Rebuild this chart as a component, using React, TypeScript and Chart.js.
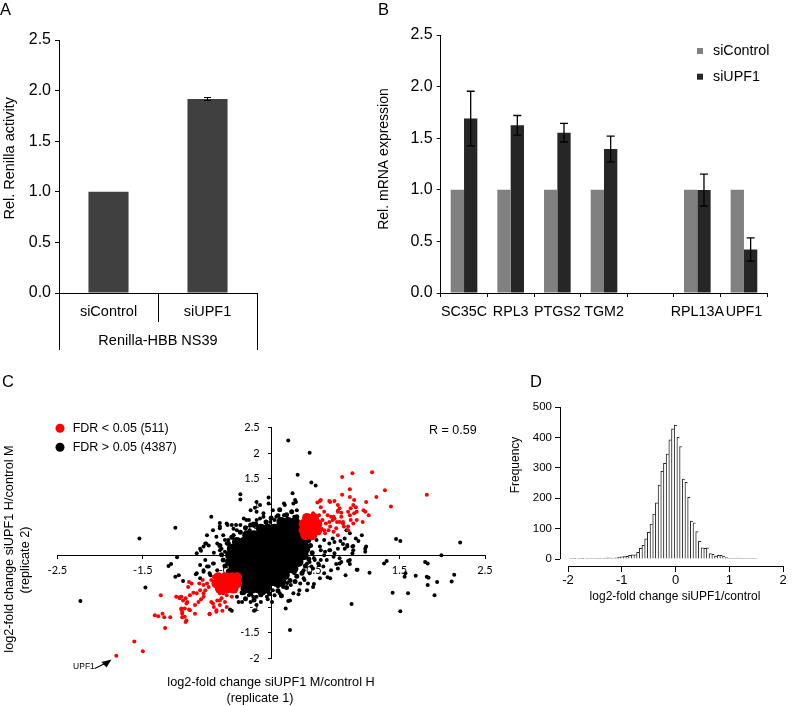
import React, { useEffect, useRef } from "react";
import { Chart, registerables } from "chart.js";

Chart.register(...registerables);

const SANS = "'Liberation Sans', Arial, sans-serif";
const EXCEL = "Lato, 'Liberation Sans', sans-serif";

// ---------- Panel A ----------
const aCategories = ["siControl", "siUPF1"];
const aValues = [1.0, 1.917];
const aErrors = [0, 0.015];
const aGroupLabel = "Renilla-HBB NS39";
const aYTicks = [0, 0.5, 1, 1.5, 2, 2.5];

// ---------- Panel B ----------
const bCategories = ["SC35C", "RPL3", "PTGS2", "TGM2", "", "RPL13A", "UPF1"];
const bControl = [1, 1, 1, 1, null, 1, 1];
const bUpf1 = [1.69, 1.625, 1.553, 1.395, null, 0.997, 0.421];
const bUpf1Err = [0.265, 0.095, 0.09, 0.125, null, 0.155, 0.113];
const bYTicks = [0, 0.5, 1, 1.5, 2, 2.5];

// ---------- Panel C ----------
type Pt = [number, number];
const cXTicks = [-2.5, -1.5, -0.5, 0.5, 1.5, 2.5];
const cYTicks = [-2, -1.5, -1, -0.5, 0, 0.5, 1, 1.5, 2, 2.5];
const cUpf1Point: Pt = [-1.81, -1.95];

const cRedCore: Pt[] = [
  [0.42, 0.74], [0.5, 0.74],
  [0.38, 0.62], [0.46, 0.62], [0.54, 0.62],
  [0.38, 0.5], [0.46, 0.5], [0.54, 0.5],
  [0.4, 0.4], [0.48, 0.4],
  [-0.62, -0.42], [-0.54, -0.42], [-0.46, -0.42], [-0.4, -0.42],
  [-0.64, -0.54], [-0.56, -0.54], [-0.48, -0.54], [-0.4, -0.54],
  [-0.6, -0.64], [-0.52, -0.64], [-0.44, -0.64],
];

const cRed: Pt[] = [
  [1.82, 1.19], [0.83, 1.54], [0.95, 1.61], [1.18, 1.63], [1.33, 1.28], [1.23, 1.15], [1.4, 0.96],
  [0.92, 1.3], [0.83, 1.19], [0.54, 1.04], [0.58, 1.09], [0.68, 1.07], [0.74, 1.07], [0.97, 1.09],
  [0.96, 0.99], [0.93, 0.93], [0.9, 0.86], [0.92, 0.79], [0.97, 0.83], [0.99, 0.95], [1.11, 1.05],
  [1.1, 0.86], [1.14, 0.79], [1.07, 0.66], [0.78, 0.99], [0.8, 0.93], [0.82, 0.76], [0.84, 0.66],
  [0.62, 0.86], [0.66, 0.79], [0.7, 0.76], [0.74, 0.73], [0.6, 0.7], [0.64, 0.63], [0.69, 0.57],
  [0.76, 0.54], [0.85, 0.57], [0.93, 0.7], [0.9, 0.57], [0.58, 0.95], [0.78, 0.88], [0.82, 0.84],
  [0.56, 0.79], [0.72, 0.7], [0.68, 0.66], [0.8, 0.66], [0.54, 0.57], [0.62, 0.5], [0.48, 0.47],
  [0.56, 0.44], [0.92, 1.15], [1.0, 0.86], [1.08, 0.89], [1.0, 0.7], [0.96, 0.63], [0.78, 0.86],
  [0.73, 0.76], [0.77, 0.66], [0.84, 0.63], [0.9, 0.5], [0.69, 1.05], [0.57, 1.07], [0.49, 0.83],
  [0.67, 0.5], [0.59, 0.53], [0.63, 0.44], [0.73, 0.47], [0.78, 0.4],
  [-1.81, -1.95], [-1.6, -1.67], [-1.5, -1.86], [-1.24, -1.41], [-1.36, -1.16], [-1.32, -1.18],
  [-1.27, -1.13], [-1.25, -1.2], [-1.18, -1.2], [-1.29, -0.77], [-1.0, -1.29], [-1.04, -1.09],
  [-1.04, -1.2], [-1.05, -1.05], [-1.01, -1.03], [-0.96, -1.05], [-1.07, -0.81], [-1.03, -0.87],
  [-1.0, -0.83], [-0.98, -0.9], [-0.95, -0.77], [-0.91, -0.72], [-0.96, -0.51], [-0.93, -0.54],
  [-0.97, -0.61], [-0.89, -0.96], [-0.85, -0.9], [-0.82, -0.85], [-0.79, -0.73], [-0.77, -0.67],
  [-0.83, -0.67], [-0.87, -0.73], [-0.73, -0.61], [-0.7, -0.47], [-0.67, -0.41], [-0.65, -0.51],
  [-0.79, -0.57], [-0.75, -0.54], [-0.8, -0.47], [-0.84, -0.54], [-0.72, -1.14], [-0.64, -1.09],
  [-0.57, -1.07], [-0.6, -0.96], [-0.67, -1.0], [-0.7, -0.9], [-0.63, -0.87], [-0.58, -0.83],
  [-0.52, -0.77], [-0.56, -0.7], [-0.6, -0.73], [-0.54, -0.9], [-1.05, -0.8], [-0.99, -0.93],
  [-0.95, -1.06], [-0.89, -1.13], [-1.01, -1.19], [-0.79, -0.8], [-0.68, -0.93], [-0.64, -1.06],
  [-0.72, -1.13], [-0.6, -0.87], [-0.56, -0.73], [-0.52, -1.0], [-0.46, -0.8], [-1.05, -1.03],
  [-1.04, -1.13], [-0.99, -1.26], [-1.11, -0.8], [-1.07, -0.83],
];

const cBlackCore: Pt[] = [
  [0.12, 0.66], [0.2, 0.66], [0.28, 0.66],
  [-0.12, 0.53], [-0.04, 0.53], [0.04, 0.53], [0.12, 0.53], [0.2, 0.53], [0.28, 0.53], [0.34, 0.53],
  [-0.28, 0.4], [-0.2, 0.4], [-0.12, 0.4], [-0.04, 0.4], [0.04, 0.4], [0.12, 0.4], [0.2, 0.4], [0.28, 0.4], [0.36, 0.4],
  [-0.4, 0.27], [-0.32, 0.27], [-0.24, 0.27], [-0.16, 0.27], [-0.08, 0.27], [0, 0.27], [0.08, 0.27], [0.16, 0.27], [0.24, 0.27], [0.32, 0.27], [0.38, 0.27],
  [-0.46, 0.14], [-0.38, 0.14], [-0.3, 0.14], [-0.22, 0.14], [-0.14, 0.14], [-0.06, 0.14], [0.02, 0.14], [0.1, 0.14], [0.18, 0.14], [0.26, 0.14], [0.34, 0.14], [0.4, 0.14],
  [-0.48, 0.01], [-0.4, 0.01], [-0.32, 0.01], [-0.24, 0.01], [-0.16, 0.01], [-0.08, 0.01], [0, 0.01], [0.08, 0.01], [0.16, 0.01], [0.24, 0.01], [0.32, 0.01], [0.38, 0.01],
  [-0.48, -0.12], [-0.4, -0.12], [-0.32, -0.12], [-0.24, -0.12], [-0.16, -0.12], [-0.08, -0.12], [0, -0.12], [0.08, -0.12], [0.16, -0.12], [0.24, -0.12], [0.32, -0.12],
  [-0.44, -0.25], [-0.36, -0.25], [-0.28, -0.25], [-0.2, -0.25], [-0.12, -0.25], [-0.04, -0.25], [0.04, -0.25], [0.12, -0.25], [0.2, -0.25], [0.26, -0.25],
  [-0.38, -0.38], [-0.3, -0.38], [-0.22, -0.38], [-0.14, -0.38], [-0.06, -0.38], [0.02, -0.38], [0.1, -0.38], [0.16, -0.38],
  [-0.34, -0.51], [-0.26, -0.51], [-0.18, -0.51], [-0.1, -0.51], [-0.02, -0.51], [0.06, -0.51], [0.12, -0.51],
  [-0.3, -0.64], [-0.22, -0.64], [-0.14, -0.64], [-0.06, -0.64],
];

const cBlackHalo: Pt[] = [
  [-0.18, 0.62], [-0.3, 0.55], [-0.36, 0.46], [-0.46, 0.36], [-0.5, 0.24], [-0.24, 0.6], [-0.06, 0.66],
  [0.0, 0.74], [-0.42, 0.3], [-0.58, 0.02], [-0.56, -0.08], [-0.6, 0.2], [-0.54, -0.2], [-0.5, -0.3],
  [0.08, 0.78], [0.18, 0.8], [0.3, 0.76], [0.24, 0.86], [0.1, 0.9], [0.44, 0.3], [0.46, 0.2],
  [0.48, 0.06], [0.44, -0.06], [0.4, -0.2], [0.36, -0.34], [0.3, -0.4], [0.22, -0.48], [0.18, -0.62],
  [0.08, -0.68], [0.28, -0.5], [0.12, -0.78], [-0.02, -0.74], [-0.12, -0.76], [-0.24, -0.74],
  [-0.34, -0.72], [-0.2, -0.86], [-0.3, -0.84], [-0.46, -0.34], [-0.44, -0.46],
];

const cBlack: Pt[] = [
  [-2.23, -0.88], [-1.54, 0.34], [-1.47, -0.62], [-1.12, 0.55], [-1.2, -0.2], [-1.17, -0.16], [-1.1, -0.03],
  [-1.08, -0.38], [-1.12, -0.41], [-1.03, -0.49], [-0.88, -0.36], [-0.87, 0.05], [-0.82, 0.1], [-0.73, 0.2],
  [-0.77, 0.24], [-0.75, 0.4], [-0.83, 0.14], [-0.79, 0.18], [-0.7, 0.76], [-0.6, 0.64], [-0.6, 0.54],
  [-0.51, 0.6], [-0.46, 0.6], [-0.41, 0.6], [-0.56, 0.4], [-0.54, 0.31], [-0.36, 1.2], [-0.36, 1.1],
  [-0.17, 1.05], [-0.13, 0.99], [-0.19, 0.94], [-0.03, 1.14], [-0.03, 1.02], [-0.24, 0.89], [-0.17, 0.86],
  [-0.32, 0.73], [-0.26, 0.7], [-0.17, 0.7], [-0.2, 0.58], [-0.11, 0.5], [-0.09, 0.76], [-0.4, 0.5],
  [-0.44, 0.4], [-0.5, 0.31], [-0.63, 0.24], [-0.58, 0.14], [-0.67, 0.06], [-0.38, 0.31], [-0.54, 0.08],
  [0.2, 2.25], [0.45, 2.01], [0.31, 1.58], [0.47, 1.43], [0.52, 1.37], [0.25, 1.22], [0.28, 1.09],
  [0.29, 1.05], [0.15, 1.02], [0.3, 0.89], [0.16, 0.99], [0.16, 0.79], [0.26, 1.02],
  [1.46, 0.33], [1.51, 0.29], [2.21, 0.26], [1.99, 0.01], [1.06, 0.4], [1.11, 0.18], [0.95, 0.18],
  [0.89, 0.21], [0.86, 0.34], [0.81, 0.29], [0.72, 0.34], [0.74, 0.27],
  [0.04, 0.7], [0.09, 0.63], [0.15, 0.79], [0.19, 0.73], [0.27, 0.76], [0.23, 0.63], [0.62, 0.31],
  [0.68, 0.24], [0.78, 0.14], [0.84, 0.23], [0.58, 0.11],
  [-0.79, -0.31], [-0.73, -0.21], [-0.67, -0.15], [-0.63, -0.28], [-0.77, -0.08], [-0.83, -0.18], [-0.71, -0.38],
  [-0.46, -1.07], [-0.38, -0.9], [-0.34, -0.9], [-0.24, -0.9], [-0.2, -1.07], [-0.12, -0.9], [-0.04, -0.85],
  [-0.32, -0.73], [-0.26, -0.77], [-0.2, -0.67], [-0.17, -0.8], [-0.09, -0.73],
  [0.22, -1.45], [0.94, -0.94], [0.17, -1.03], [0.2, -0.88], [0.04, -0.77], [0.01, -0.9], [1.42, -0.72],
  [1.6, -0.73], [1.51, -1.08], [1.83, -0.57], [1.91, -0.77], [1.94, -0.51], [1.82, -0.41], [1.84, -0.43],
  [1.69, -0.39], [1.57, -0.34], [2.11, -0.5], [2.14, -0.37], [1.8, -0.12], [1.83, -0.15], [1.32, -0.15],
  [1.35, -0.1], [1.15, -0.33], [1.01, -0.27], [0.87, -0.38], [1.56, -0.41],
  [0.78, -0.25], [0.8, -0.15], [0.82, -0.12], [0.76, -0.16], [0.7, -0.28], [0.66, -0.42], [0.69, -0.44],
  [0.62, -0.34], [0.5, -0.55], [0.43, -0.54], [0.39, -0.47], [0.37, -0.31], [0.33, -0.67], [0.32, -0.75],
  [0.19, -0.53], [0.15, -0.47], [0.27, -0.34], [0.23, -0.57], [0.08, -0.6], [0.06, -0.53], [0.11, -0.38],
  [0.9, -0.1], [0.92, -0.16], [0.95, 0.05], [0.96, 0.19], [1.0, -0.27],
  [0.56, -0.18], [0.58, -0.08], [0.5, -0.05], [0.47, -0.21], [0.45, -0.12], [0.74, 0.05], [0.68, 0.11], [0.62, 0.01],
  [0.8, -0.05], [0.92, -0.08], [0.86, 0.14], [0.89, 0.18], [0.96, 0.11], [0.99, 0.34], [1.02, 0.29],
  [1.1, 0.14], [1.1, 0.08], [0.88, 0.5], [0.92, 0.44],
  [-0.19, -1.06], [-0.17, -0.96], [-0.48, -1.05],
  [-0.4, -0.8], [-0.33, -0.73], [-0.21, -0.8], [-0.13, -0.73], [-0.05, -0.8], [0.02, -0.67], [0.1, -0.73],
  [-0.09, -0.54], [0.06, -0.54], [0.14, -0.61],
  [0.34, -0.54], [0.42, -0.67], [0.49, -0.61], [0.57, -0.44], [0.45, -0.34], [0.38, -0.44], [0.26, -0.73], [0.22, -0.87],
  [0.55, -0.15], [0.65, -0.08], [0.61, -0.21], [0.51, -0.08], [0.73, -0.02], [0.69, 0.11], [0.63, 0.08],
  [0.57, 0.18], [0.53, 0.31],
  [-0.68, 0.5], [-0.6, 0.57], [-0.52, 0.63], [-0.44, 0.53], [-0.36, 0.6], [-0.29, 0.7], [-0.21, 0.63],
  [-0.13, 0.73], [-0.44, 0.4], [-0.64, 0.37], [-0.76, 0.24], [-0.52, 0.24], [-0.6, 0.11],
  [-0.09, 0.83], [0.02, 0.89], [0.06, 0.76], [-0.01, 0.66], [-0.13, 0.57], [-0.25, 0.5],
  [-0.75, -0.21], [-0.68, -0.15], [-0.79, -0.28], [-0.72, -0.34], [-0.83, -0.44], [-0.87, -0.34],
  [0.42, -0.15], [0.49, -0.25], [0.38, -0.28], [0.34, -0.15],
];

// ---------- Panel D ----------
const dBinCenters = [
  -1.95, -1.9, -1.85, -1.8, -1.75, -1.7, -1.65, -1.6, -1.55, -1.5,
  -1.45, -1.4, -1.35, -1.3, -1.25, -1.2, -1.15, -1.1, -1.05, -1.0,
  -0.95, -0.9, -0.85, -0.8, -0.75, -0.7, -0.65, -0.6, -0.55, -0.5,
  -0.45, -0.4, -0.35, -0.3, -0.25, -0.2, -0.15, -0.1, -0.05, 0.0,
  0.05, 0.1, 0.15, 0.2, 0.25, 0.3, 0.35, 0.4, 0.45, 0.5,
  0.55, 0.6, 0.65, 0.7, 0.75, 0.8, 0.85, 0.9, 0.95, 1.0,
  1.05, 1.1, 1.15, 1.2, 1.25, 1.3, 1.35, 1.4, 1.45, 1.5,
];
const dCounts = [
  2, 2, 1, 2, 2, 1, 2, 2, 2, 2,
  2, 3, 2, 3, 4, 3, 2, 4, 6, 7,
  8, 9, 12, 14, 14, 22, 35, 45, 66, 88,
  115, 148, 185, 243, 288, 315, 345, 392, 428, 440,
  400, 370, 263, 252, 203, 125, 119, 90, 58, 37,
  35, 37, 18, 15, 10, 12, 12, 10, 5, 2,
  2, 2, 3, 3, 2, 2, 2, 2, 2, 2,
];
const dXTicks = [-2, -1, 0, 1, 2];
const dYTicks = [0, 100, 200, 300, 400, 500];

// ---------- helpers ----------
function txt(ctx: any, s: string, x: number, y: number, size: number, o: any = {}) {
  ctx.save();
  ctx.translate(x, y);
  if (o.rotate) ctx.rotate(o.rotate);
  ctx.font = `${size}px ${o.family || SANS}`;
  ctx.fillStyle = o.color || "#000";
  ctx.textAlign = o.align || "center";
  ctx.textBaseline = o.baseline || "middle";
  ctx.fillText(s, 0, 0);
  ctx.restore();
}

function overlay(id: string, draw: (ctx: any, chart: any) => void, under?: (ctx: any, chart: any) => void) {
  return {
    id,
    beforeDatasetsDraw(chart: any) {
      if (!under) return;
      const ctx = chart.ctx;
      ctx.save();
      under(ctx, chart);
      ctx.restore();
    },
    afterDraw(chart: any) {
      const ctx = chart.ctx;
      ctx.save();
      draw(ctx, chart);
      ctx.restore();
    },
  };
}

const errorBars = {
  id: "errorBars",
  afterDatasetsDraw(chart: any, _a: any, opts: any) {
    const ctx = chart.ctx;
    const y = chart.scales.y;
    chart.data.datasets.forEach((ds: any, i: number) => {
      if (!ds.errors) return;
      chart.getDatasetMeta(i).data.forEach((el: any, j: number) => {
        const v = ds.data[j];
        const e = ds.errors[j];
        if (v == null || !e) return;
        const top = y.getPixelForValue(v + e);
        const bot = y.getPixelForValue(v - e);
        ctx.save();
        ctx.strokeStyle = "#000";
        ctx.lineWidth = opts.width || 1.2;
        ctx.beginPath();
        ctx.moveTo(el.x, top);
        ctx.lineTo(el.x, bot);
        ctx.moveTo(el.x - opts.cap, top);
        ctx.lineTo(el.x + opts.cap, top);
        ctx.moveTo(el.x - opts.cap, bot);
        ctx.lineTo(el.x + opts.cap, bot);
        ctx.stroke();
        ctx.restore();
      });
    });
  },
};

const tickList = (vals: number[]) => (s: any) => {
  s.ticks = vals.map((v) => ({ value: v }));
};

const baseOpts = {
  responsive: false,
  animation: false as const,
  events: [],
};

// ---------- configs ----------
const A = { left: 0, top: 0, width: 370, height: 360 };
const B = { left: 370, top: 0, width: 422, height: 330 };
const C = { left: 0, top: 360, width: 500, height: 346 };
const D = { left: 500, top: 360, width: 292, height: 346 };

function configA() {
  return {
    type: "bar",
    data: {
      labels: aCategories,
      datasets: [
        {
          data: aValues,
          errors: aErrors,
          backgroundColor: "#404040",
          categoryPercentage: 0.405,
          barPercentage: 1,
        },
      ],
    },
    options: {
      ...baseOpts,
      layout: { padding: { left: 0, top: 40, right: 113, bottom: 0 } },
      plugins: { legend: { display: false }, tooltip: { enabled: false }, errorBars: { cap: 3.5, width: 1.2 } },
      scales: {
        x: {
          grid: { offset: true, drawOnChartArea: false, tickLength: 29, color: "#000" },
          border: { color: "#000" },
          ticks: { color: "#000", font: { family: SANS, size: 14.5 }, padding: -18.7 },
          afterFit: (s: any) => { s.height = 67; },
        },
        y: {
          min: 0,
          max: 2.5,
          afterBuildTicks: tickList(aYTicks),
          ticks: { color: "#000", font: { family: SANS, size: 16 }, padding: 4, callback: (v: any) => Number(v).toFixed(1) },
          grid: { drawOnChartArea: false, tickLength: 4, color: "#000" },
          border: { color: "#000" },
          afterFit: (s: any) => { s.width = 59; },
        },
      },
    },
    plugins: [
      errorBars,
      overlay("annA", (ctx, chart) => {
        const ca = chart.chartArea;
        txt(ctx, "A", 0 - A.left, 15 - A.top, 16.5, { align: "left", baseline: "alphabetic" });
        txt(ctx, "Rel. Renilla activity", 9.5 - A.left, 158.3 - A.top, 14.5, { rotate: -Math.PI / 2 });
        ctx.strokeStyle = "#000";
        ctx.lineWidth = 1;
        ctx.beginPath();
        [ca.left, ca.right].forEach((x: number) => {
          const xx = Math.round(x) + 0.5;
          ctx.moveTo(xx, ca.bottom + 28);
          ctx.lineTo(xx, ca.bottom + 57);
        });
        ctx.stroke();
        txt(ctx, aGroupLabel, (ca.left + ca.right) / 2, 341 - A.top, 14.5);
      }),
    ],
  };
}

function configB() {
  return {
    type: "bar",
    data: {
      labels: bCategories,
      datasets: [
        { label: "siControl", data: bControl, backgroundColor: "#808080", categoryPercentage: 0.571, barPercentage: 1 },
        { label: "siUPF1", data: bUpf1, errors: bUpf1Err, backgroundColor: "#262626", categoryPercentage: 0.571, barPercentage: 1 },
      ],
    },
    options: {
      ...baseOpts,
      layout: { padding: { left: 0, top: 35, right: 24.7, bottom: 0 } },
      plugins: { legend: { display: false }, tooltip: { enabled: false }, errorBars: { cap: 4, width: 1.3 } },
      scales: {
        x: {
          grid: { offset: true, drawOnChartArea: false, tickLength: 4, color: "#000" },
          border: { color: "#000" },
          ticks: { color: "#000", font: { family: SANS, size: 14.3 }, padding: 6, autoSkip: false, maxRotation: 0 },
          afterFit: (s: any) => { s.height = 37; },
        },
        y: {
          min: 0,
          max: 2.5,
          afterBuildTicks: tickList(bYTicks),
          ticks: { color: "#000", font: { family: SANS, size: 16 }, padding: 4, callback: (v: any) => Number(v).toFixed(1) },
          grid: { drawOnChartArea: false, tickLength: 4, color: "#000" },
          border: { color: "#000" },
          afterFit: (s: any) => { s.width = 70.7; },
        },
      },
    },
    plugins: [
      errorBars,
      overlay("annB", (ctx, chart) => {
        txt(ctx, "B", 378 - B.left, 15 - B.top, 16.5, { align: "left", baseline: "alphabetic" });
        txt(ctx, "Rel. mRNA expression", 384 - B.left, 159 - B.top, 14, { rotate: -Math.PI / 2 });
        const ys = [51, 76.7];
        chart.data.datasets.forEach((ds: any, i: number) => {
          ctx.fillStyle = ds.backgroundColor;
          ctx.fillRect(697 - B.left, ys[i] - 3 - B.top, 6, 6);
          txt(ctx, ds.label, 713 - B.left, ys[i] - B.top, 14.3, { align: "left" });
        });
      }),
    ],
  };
}

const toXY = (pts: Pt[]) => pts.map(([x, y]) => ({ x, y }));

function configC() {
  const ptStyle = (color: string, r: number) => ({
    backgroundColor: color,
    pointRadius: r,
    pointBorderWidth: 0,
    pointHoverRadius: r,
  });
  return {
    type: "scatter",
    data: {
      datasets: [
        { label: "FDR < 0.05 (511)", data: toXY(cRedCore), ...ptStyle("#ff0000", 5) },
        { label: "red", data: toXY(cRed), ...ptStyle("#ff0000", 2) },
        { label: "FDR > 0.05 (4387)", data: toXY(cBlackCore), ...ptStyle("#000000", 5) },
        { label: "halo", data: toXY(cBlackHalo), ...ptStyle("#000000", 2.5) },
        { label: "black", data: toXY(cBlack), ...ptStyle("#000000", 2) },
      ],
    },
    options: {
      ...baseOpts,
      layout: { padding: { left: 57.3, top: 67.7, right: 15, bottom: 47.7 } },
      plugins: { legend: { display: false }, tooltip: { enabled: false } },
      scales: {
        x: {
          type: "linear",
          min: -2.5,
          max: 2.5,
          position: { y: 0 },
          afterBuildTicks: tickList(cXTicks),
          ticks: { color: "#000", font: { family: EXCEL, size: 11 }, padding: 5, callback: (v: any) => String(v) },
          grid: { drawOnChartArea: false, tickLength: 3, color: "#000" },
          border: { color: "#000" },
          afterFit: (s: any) => { s.height = 0; },
        },
        y: {
          type: "linear",
          min: -2,
          max: 2.5,
          position: { x: 0 },
          afterBuildTicks: tickList(cYTicks),
          ticks: { display: false },
          grid: { drawOnChartArea: false, tickLength: 3, color: "#000" },
          border: { color: "#000" },
          afterFit: (s: any) => { s.width = 0; },
        },
      },
    },
    plugins: [
      overlay(
        "annC",
        (ctx, chart) => {
          const ox = C.left, oy = C.top;
          txt(ctx, "C", 2 - ox, 387 - oy, 16.5, { align: "left", baseline: "alphabetic" });
          const leg = [
            { y: 428.3, color: "#ff0000", label: chart.data.datasets[0].label },
            { y: 447.3, color: "#000000", label: chart.data.datasets[2].label },
          ];
          leg.forEach((l) => {
            ctx.fillStyle = l.color;
            ctx.beginPath();
            ctx.arc(60 - ox, l.y - oy, 4.5, 0, Math.PI * 2);
            ctx.fill();
            txt(ctx, l.label, 72.7 - ox, l.y - oy, 12.5, { align: "left" });
          });
          txt(ctx, "R = 0.59", 429 - ox, 431 - oy, 12.5, { align: "left" });
          txt(ctx, "log2-fold change siUPF1 H/control M", 9 - ox, 549 - oy, 12.7, { rotate: -Math.PI / 2 });
          txt(ctx, "(replicate 2)", 25 - ox, 560 - oy, 12.7, { rotate: -Math.PI / 2 });
          txt(ctx, "log2-fold change siUPF1 M/control H", 271 - ox, 682.7 - oy, 12.7);
          txt(ctx, "(replicate 1)", 260 - ox, 698 - oy, 12.7);
          const px = chart.scales.x.getPixelForValue(cUpf1Point[0]);
          const py = chart.scales.y.getPixelForValue(cUpf1Point[1]);
          ctx.strokeStyle = "#000";
          ctx.fillStyle = "#000";
          ctx.lineWidth = 1.2;
          ctx.beginPath();
          ctx.moveTo(px - 21.5, py + 12.8);
          ctx.lineTo(px - 10, py + 7);
          ctx.stroke();
          ctx.beginPath();
          ctx.moveTo(px - 4.8, py + 3.8);
          ctx.lineTo(px - 14.8, py + 6.2);
          ctx.lineTo(px - 9.8, py + 11.8);
          ctx.closePath();
          ctx.fill();
          txt(ctx, "UPF1", px - 21.5, py + 11.3, 8.5, { align: "right" });
        },
        (ctx, chart) => {
          const ys = chart.scales.y;
          const x0 = chart.scales.x.getPixelForValue(0);
          cYTicks.forEach((v) => {
            txt(ctx, String(v), x0 - 11.5, ys.getPixelForValue(v), 11, { align: "right", family: EXCEL });
          });
        }
      ),
    ],
  };
}

function configD() {
  return {
    type: "bar",
    data: {
      datasets: [
        {
          data: dBinCenters.map((x, i) => ({ x, y: dCounts[i] })),
          backgroundColor: "#ffffff",
          borderColor: "#262626",
          borderWidth: { left: 1, top: 1, right: 0, bottom: 0 },
          borderSkipped: false,
          categoryPercentage: 1,
          barPercentage: 1,
        },
      ],
    },
    options: {
      ...baseOpts,
      layout: { padding: { left: 0, top: 47, right: 9, bottom: 0 } },
      plugins: { legend: { display: false }, tooltip: { enabled: false } },
      scales: {
        x: {
          type: "linear",
          min: -2.15,
          max: 2,
          offset: false,
          afterBuildTicks: tickList(dXTicks),
          ticks: { color: "#000", font: { family: SANS, size: 13 }, padding: 1, callback: (v: any) => String(v) },
          grid: { offset: false, drawOnChartArea: false, tickLength: 6, color: "#000" },
          border: { display: false },
          afterFit: (s: any) => { s.height = 140; },
        },
        y: {
          min: -23,
          max: 500,
          afterBuildTicks: tickList(dYTicks),
          ticks: { color: "#000", font: { family: SANS, size: 11.5 }, padding: 3, callback: (v: any) => String(v) },
          grid: { drawOnChartArea: false, tickLength: 5, color: "#000" },
          border: { display: false },
          afterFit: (s: any) => { s.width = 60; },
        },
      },
    },
    plugins: [
      overlay("annD", (ctx, chart) => {
        const ox = D.left, oy = D.top;
        const ca = chart.chartArea;
        const xs = chart.scales.x, ys = chart.scales.y;
        ctx.strokeStyle = "#000";
        ctx.lineWidth = 1;
        ctx.beginPath();
        const by = Math.round(ca.bottom) + 0.5;
        ctx.moveTo(xs.getPixelForValue(dXTicks[0]), by);
        ctx.lineTo(xs.getPixelForValue(dXTicks[dXTicks.length - 1]), by);
        const lx = Math.round(ca.left) + 0.5;
        ctx.moveTo(lx, ys.getPixelForValue(dYTicks[0]));
        ctx.lineTo(lx, ys.getPixelForValue(dYTicks[dYTicks.length - 1]));
        ctx.stroke();
        txt(ctx, "D", 530 - ox, 387 - oy, 16.5, { align: "left", baseline: "alphabetic" });
        txt(ctx, "Frequency", 516 - ox, 465 - oy, 12, { rotate: -Math.PI / 2 });
        txt(ctx, "log2-fold change siUPF1/control", 675 - ox, 597 - oy, 12);
      }),
    ],
  };
}

function Panel({ box, make }: { box: any; make: () => any }) {
  const ref = useRef<HTMLCanvasElement | null>(null);
  useEffect(() => {
    if (!ref.current) return;
    const chart = new Chart(ref.current, make() as any);
    return () => chart.destroy();
  }, []);
  return (
    <canvas
      ref={ref}
      width={box.width}
      height={box.height}
      style={{ position: "absolute", left: box.left, top: box.top, width: box.width, height: box.height }}
    />
  );
}

export default function App() {
  return (
    <div style={{ position: "absolute", left: 0, top: 0, width: 792, height: 706, background: "#fff", overflow: "hidden" }}>
      <Panel box={A} make={configA} />
      <Panel box={B} make={configB} />
      <Panel box={C} make={configC} />
      <Panel box={D} make={configD} />
    </div>
  );
}
